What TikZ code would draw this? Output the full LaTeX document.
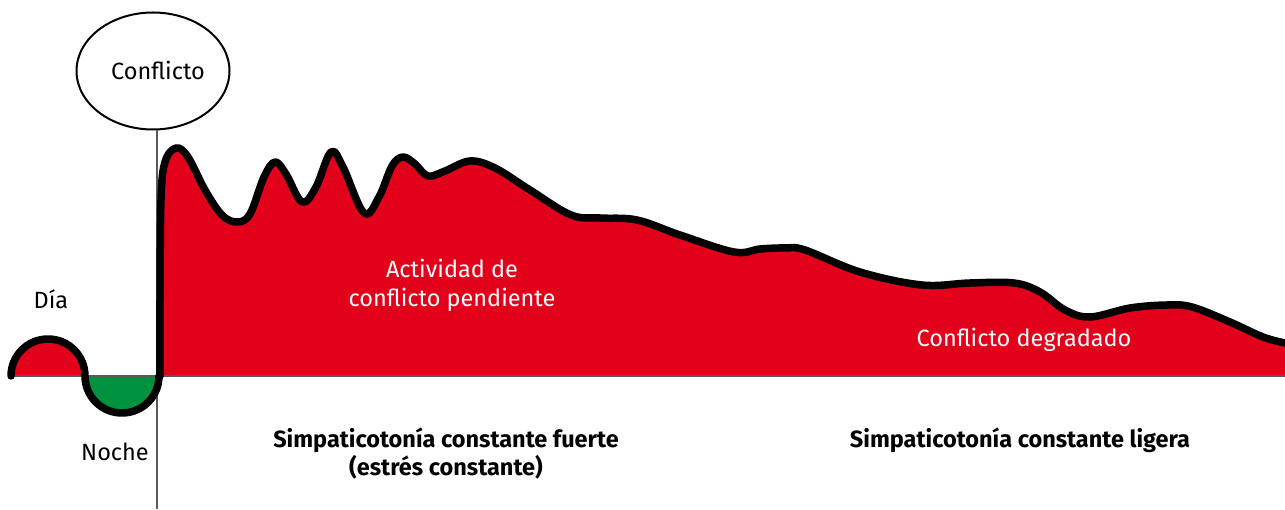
\documentclass[tikz,border=0pt]{standalone}
\usepackage{fontspec}
\setmainfont{Fira Sans}
\usetikzlibrary{shapes.geometric}
\definecolor{cred}{RGB}{226,0,26}
\definecolor{cgreen}{RGB}{0,146,63}
\definecolor{axisgray}{RGB}{90,90,90}
\begin{document}
\begin{tikzpicture}[x=1pt,y=1pt,
  lbl/.style={font=\fontsize{23.5}{29}\selectfont, inner sep=0pt, align=center},
  wlbl/.style={lbl, text=white},
  blbl/.style={font=\fontsize{23.5}{28}\selectfont\bfseries, inner sep=0pt, align=center},
  curve/.style={line width=7.5pt, black, line join=round, line cap=round}]
\useasboundingbox (0,0) rectangle (1285,509);
% main curve points
\def\maincurve{(160,133) (160,209) (161,309) (165,347) (176,361) (188,352) (205,319) (222,294) (237,287) (250,295) (264,332) (275,347) (286,335) (302,307) (316,322) (331,357) (343,342) (364,296) (379,312) (392,343) (403,352) (415,345) (428,333) (445,338) (470,348) (495,341) (530,319) (571,294) (600,291) (637,289) (680,274) (734,257) (760,260) (785,261) (805,259) (860,237) (922,224) (970,226) (1014,226) (1040,217) (1065,199) (1090,192) (1130,201) (1167,204) (1192,202) (1230,187) (1263,172) (1285,166)}
% fills
\fill[cred] (11,133) arc[start angle=180, end angle=0, radius=37] -- cycle;
\fill[cgreen] (85,133) arc[start angle=180, end angle=360, radius=37] -- cycle;
\fill[cred] plot[smooth, tension=0.6] coordinates \maincurve -- (1285,133) -- cycle;
% axes
\coordinate (bl) at (8,133);
\coordinate (br) at (1285,133);
\draw[axisgray, line width=2pt] (bl) -- (br);
\node[ellipse, draw, line width=2pt, minimum width=153pt, minimum height=117pt, inner sep=0pt] (conf) at (153,438) {};
\node[lbl] (conftxt) at (158,439) {Conflicto};
\coordinate (vbot) at (157,0);
\draw[axisgray, line width=2.2pt] (vbot |- conf.south) -- (vbot);
% black curve
\draw[curve] (11,133) arc[start angle=180, end angle=0, radius=37]
   arc[start angle=180, end angle=360, radius=37] -- (160,133);
\draw[curve] plot[smooth, tension=0.6] coordinates \maincurve;
% labels
\node[lbl] (dia) at (51,210) {Día};
\node[lbl] (noche) at (115,57) {Noche};
\node[wlbl] (act) at (452,224) {Actividad de\\conflicto pendiente};
\node[wlbl] (deg) at (1024,169) {Conflicto degradado};
\node[blbl] (fuerte) at (446,55) {Simpaticotonía constante fuerte\\(estrés constante)};
\node[blbl] (ligera) at (1020,69) {Simpaticotonía constante ligera};
\end{tikzpicture}
\end{document}
